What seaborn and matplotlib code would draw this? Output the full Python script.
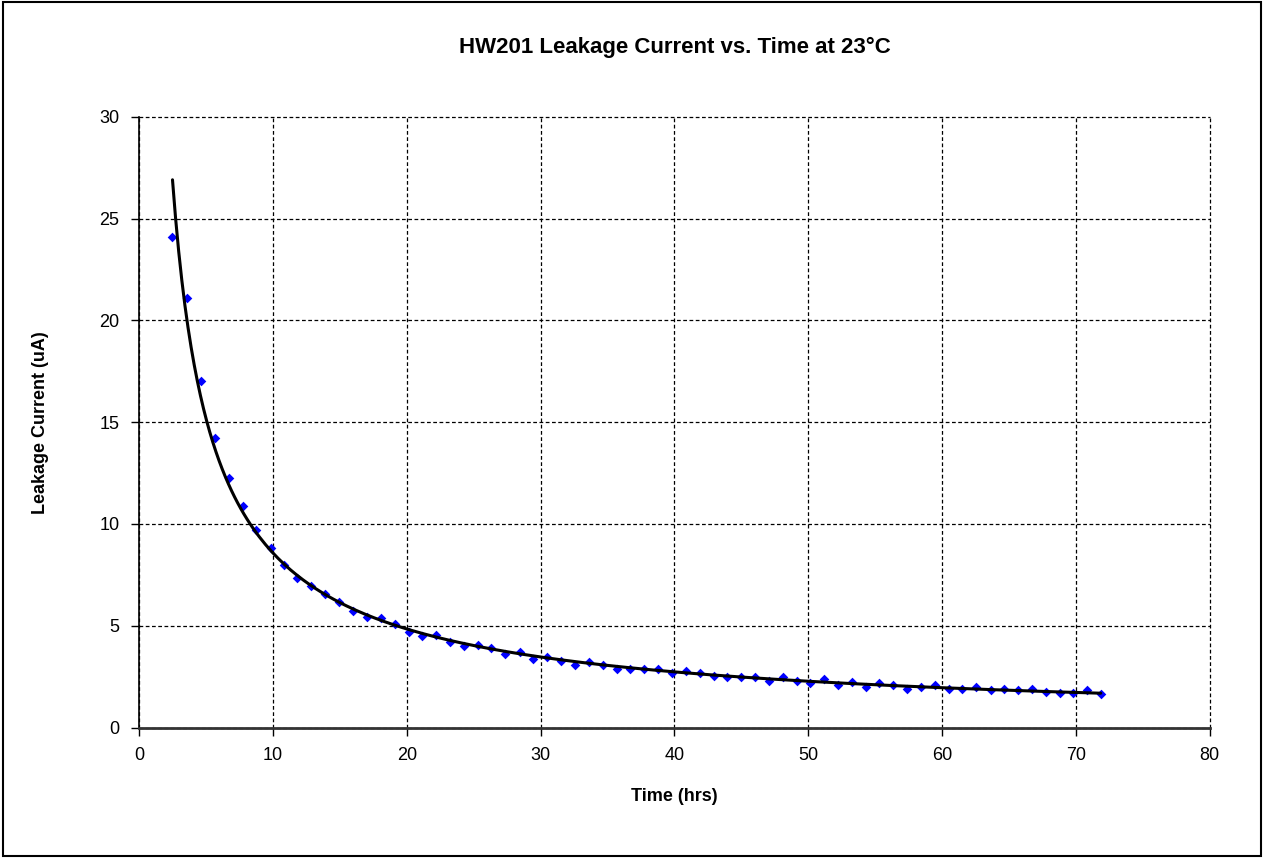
import numpy as np
import pandas as pd
import matplotlib.pyplot as plt
import seaborn as sns
from matplotlib.patches import Rectangle

time_hrs = [2.5, 3.6, 4.63, 5.67, 6.7, 7.75, 8.74, 9.84, 10.84, 11.84,
            12.86, 13.93, 14.96, 15.98, 17.03, 18.08, 19.15, 20.14, 21.17, 22.22,
            23.26, 24.26, 25.31, 26.33, 27.38, 28.43, 29.42, 30.5, 31.55, 32.55,
            33.6, 34.64, 35.69, 36.71, 37.73, 38.78, 39.83, 40.88, 41.9, 42.93,
            43.97, 44.99, 46.04, 47.07, 48.11, 49.14, 50.16, 51.2, 52.23, 53.26,
            54.3, 55.32, 56.35, 57.4, 58.44, 59.49, 60.49, 61.51, 62.56, 63.63,
            64.63, 65.68, 66.7, 67.75, 68.8, 69.82, 70.87, 71.86]
current_ua = [24.1, 21.1, 17.0, 14.23, 12.28, 10.88, 9.71, 8.80, 7.99, 7.33,
              6.95, 6.55, 6.18, 5.74, 5.44, 5.37, 5.07, 4.71, 4.51, 4.55,
              4.19, 4.00, 4.05, 3.89, 3.60, 3.70, 3.38, 3.48, 3.28, 3.07,
              3.20, 3.09, 2.87, 2.86, 2.89, 2.89, 2.66, 2.79, 2.66, 2.55,
              2.48, 2.47, 2.50, 2.30, 2.47, 2.30, 2.17, 2.40, 2.10, 2.24,
              2.00, 2.17, 2.09, 1.88, 2.00, 2.09, 1.88, 1.91, 1.99, 1.84,
              1.89, 1.86, 1.91, 1.73, 1.70, 1.70, 1.83, 1.66]

df = pd.DataFrame({"time": time_hrs, "current": current_ua})

# power trendline fitted to the data (like Excel's power trendline)
b, log_a = np.polyfit(np.log(df["time"]), np.log(df["current"]), 1)
xfit = np.linspace(df["time"].min(), df["time"].max(), 300)
fit = pd.DataFrame({"time": xfit, "current": np.exp(log_a) * xfit ** b})

sns.set_style("white")
plt.rcParams["font.family"] = ["Liberation Sans", "DejaVu Sans"]
plt.rcParams["text.color"] = "black"
plt.rcParams["axes.labelcolor"] = "black"
plt.rcParams["xtick.color"] = "black"
plt.rcParams["ytick.color"] = "black"

fig = plt.figure(figsize=(12.64, 8.58), dpi=100)
ax = fig.add_axes([0.110, 0.152, 0.847, 0.712])

sns.scatterplot(data=df, x="time", y="current", ax=ax, marker="D", s=24,
                color="#0000FF", edgecolor="#0000FF", linewidth=0, zorder=3)
sns.lineplot(data=fit, x="time", y="current", ax=ax, color="black", lw=2.2, zorder=4)

ax.set_xlim(0, 80)
ax.set_ylim(0, 30)
ax.set_xticks(range(0, 81, 10))
ax.set_yticks(range(0, 31, 5))
ax.grid(True, color="black", linestyle=(0, (3, 2)), linewidth=0.9)
ax.set_axisbelow(True)
for gl in ax.get_xgridlines() + ax.get_ygridlines():
    gl.set_clip_on(False)

for s in ["top", "right"]:
    ax.spines[s].set_visible(False)
ax.spines["left"].set_color("black")
ax.spines["bottom"].set_color("#333333")
ax.spines["left"].set_linewidth(1.2)
ax.spines["bottom"].set_linewidth(2)

ax.tick_params(axis="both", direction="out", length=6, width=1,
               labelsize=13, pad=8, bottom=True, left=True)

ax.set_xlabel("Time (hrs)", fontsize=13, fontweight="bold", labelpad=17)
ax.set_ylabel("Leakage Current (uA)", fontsize=13, fontweight="bold", labelpad=36)
fig.text(0.534, 0.945, "HW201 Leakage Current vs. Time at 23°C",
         ha="center", va="center", fontsize=16, fontweight="bold")

fig.patches.append(Rectangle((0.002, 0.002), 0.996, 0.996, transform=fig.transFigure,
                             fill=False, edgecolor="black", linewidth=1.5))

plt.savefig("out.png", dpi=100)
